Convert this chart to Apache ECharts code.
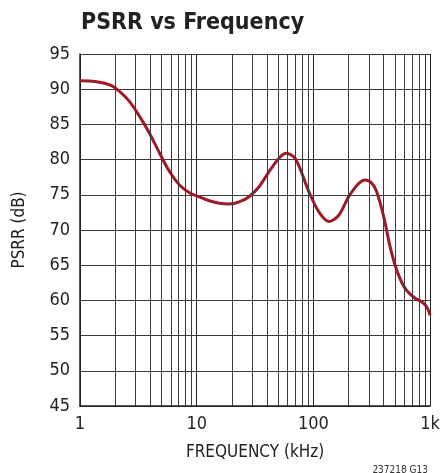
<!DOCTYPE html>
<html>
<head>
<meta charset="utf-8">
<script src="https://cdn.jsdelivr.net/npm/echarts@6/dist/echarts.min.js"></script>
<style>
  html, body { margin: 0; padding: 0; background: #fff; }
  #chart { width: 443px; height: 473px; }
</style>
</head>
<body>
<div id="chart"></div>
<script>
// frequency in kHz, PSRR in dB
var freq = [1, 1.34, 1.8, 2.19, 2.67, 3.25, 3.95, 4.81, 5.85, 7.12, 8.67, 10.5, 12.8, 15.6, 19.0, 23.1, 28.1, 34.2, 41.7, 50.7, 58.5, 70.3, 91.3, 111, 135, 165, 200, 244, 278, 310, 345, 400, 454, 517, 610, 742, 846, 933, 1000];
var psrr = [91.2, 91.1, 90.6, 89.65, 88.2, 86.1, 83.7, 80.9, 78.3, 76.4, 75.3, 74.7, 74.16, 73.8, 73.7, 74.0, 74.73, 76.15, 78.3, 80.2, 80.9, 80.1, 75.45, 72.6, 71.2, 72.1, 74.7, 76.6, 77.1, 76.8, 75.6, 71.9, 67.6, 64.3, 61.7, 60.3, 59.8, 59.1, 57.9];
// minor log grid lines
var minorFreqs = [2, 3, 4, 5, 6, 7, 8, 9, 20, 30, 40, 50, 60, 70, 80, 90, 200, 300, 400, 500, 600, 700, 800, 900];

var font = '"Liberation Sans Narrow", "DejaVu Sans Condensed", sans-serif';
var gridColor = "#3a3a3a";

var chart = echarts.init(document.getElementById("chart"));

var option = {
  backgroundColor: "#fff",
  animation: false,
  title: [
    {
      text: "PSRR vs Frequency",
      left: 76,
      top: 7,
      textStyle: { fontFamily: font, fontWeight: "bold", fontSize: 23, color: "#222" },
    },
    {
      text: "237218 G13",
      right: 10,
      top: 460,
      textStyle: { fontFamily: font, fontWeight: "normal", fontSize: 10, color: "#333" },
    },
  ],
  grid: { left: 80, right: 11, top: 54, bottom: 67 },
  xAxis: {
    type: "log",
    logBase: 10,
    min: 1,
    max: 1000,
    name: "FREQUENCY (kHz)",
    nameLocation: "middle",
    nameGap: 38,
    nameTextStyle: { fontFamily: font, fontSize: 17, color: "#222" },
    axisLine: { lineStyle: { color: "#222", width: 1.5 } },
    axisTick: { show: false },
    axisLabel: {
      fontFamily: font,
      fontSize: 18,
      color: "#222",
      margin: 9,
      formatter: function (v) {
        return v >= 1000 ? v / 1000 + "k" : String(v);
      },
    },
    splitLine: { show: true, lineStyle: { color: "#222", width: 1 } },
  },
  yAxis: {
    type: "value",
    min: 45,
    max: 95,
    interval: 5,
    name: "PSRR (dB)",
    nameLocation: "middle",
    nameGap: 52,
    nameTextStyle: { fontFamily: font, fontSize: 17, color: "#222" },
    axisLine: { show: true, lineStyle: { color: "#222", width: 1.5 } },
    axisTick: { show: false },
    axisLabel: { fontFamily: font, fontSize: 18, color: "#222", margin: 10 },
    splitLine: { show: true, lineStyle: { color: gridColor, width: 1 } },
  },
  series: [
    {
      name: "grid",
      type: "line",
      data: [],
      z: 1,
      silent: true,
      markLine: {
        silent: true,
        symbol: "none",
        label: { show: false },
        lineStyle: { color: gridColor, width: 1, type: "solid" },
        data: minorFreqs.map(function (f) {
          return { xAxis: f };
        }),
      },
    },
    {
      name: "PSRR",
      type: "line",
      z: 3,
      smooth: 0.3,
      showSymbol: false,
      lineStyle: { color: "#9b1b26", width: 3 },
      data: freq.map(function (f, i) {
        return [f, psrr[i]];
      }),
    },
  ],
};

chart.setOption(option, true);
</script>
</body>
</html>
